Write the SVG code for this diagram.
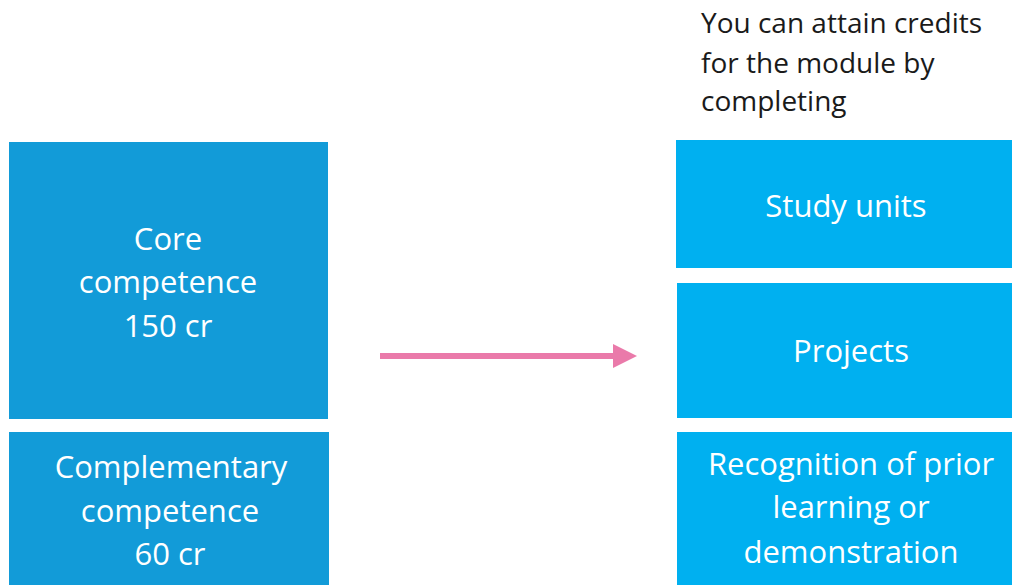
<svg xmlns="http://www.w3.org/2000/svg" width="1012" height="585" viewBox="0 0 1012 585">
<style>
.t{font-family:"Open Sans","Liberation Sans",sans-serif;font-size:31px;fill:#ffffff;text-anchor:middle}
.h{font-family:"Open Sans","Liberation Sans",sans-serif;font-size:28px;fill:#1a1a1a}
.l{fill:#129bd8}
.r{fill:#00b0f0}
</style>
<defs>
<marker id="ah" markerWidth="4" markerHeight="4" refX="0" refY="2" orient="auto" markerUnits="strokeWidth">
<path d="M0,0 L4,2 L0,4 Z" fill="#ea7aaa"/>
</marker>
</defs>
<rect width="1012" height="585" fill="#ffffff"/>
<g id="intro">
<text class="h" x="701" y="33">You can attain credits</text>
<text class="h" x="701" y="73">for the module by</text>
<text class="h" x="701" y="111">completing</text>
</g>
<g id="core">
<rect class="l" x="9" y="142" width="319" height="277"/>
<text class="t" x="168" y="250">Core</text>
<text class="t" x="168" y="293">competence</text>
<text class="t" x="168" y="337">150 cr</text>
</g>
<g id="complementary">
<rect class="l" x="9" y="432" width="320" height="153"/>
<text class="t" x="171" y="478">Complementary</text>
<text class="t" x="170" y="522">competence</text>
<text class="t" x="170" y="565">60 cr</text>
</g>
<g id="study">
<rect class="r" x="676" y="140" width="336" height="128"/>
<text class="t" x="846" y="217">Study units</text>
</g>
<g id="projects">
<rect class="r" x="677" y="283" width="335" height="135"/>
<text class="t" x="851" y="362">Projects</text>
</g>
<g id="recognition">
<rect class="r" x="677" y="432" width="335" height="153"/>
<text class="t" x="851" y="475">Recognition of prior</text>
<text class="t" x="851" y="518">learning or</text>
<text class="t" x="851" y="563">demonstration</text>
</g>
<g id="connectors">
<line x1="380" y1="356" x2="613" y2="356" stroke="#ea7aaa" stroke-width="6" marker-end="url(#ah)"/>
</g>
</svg>
